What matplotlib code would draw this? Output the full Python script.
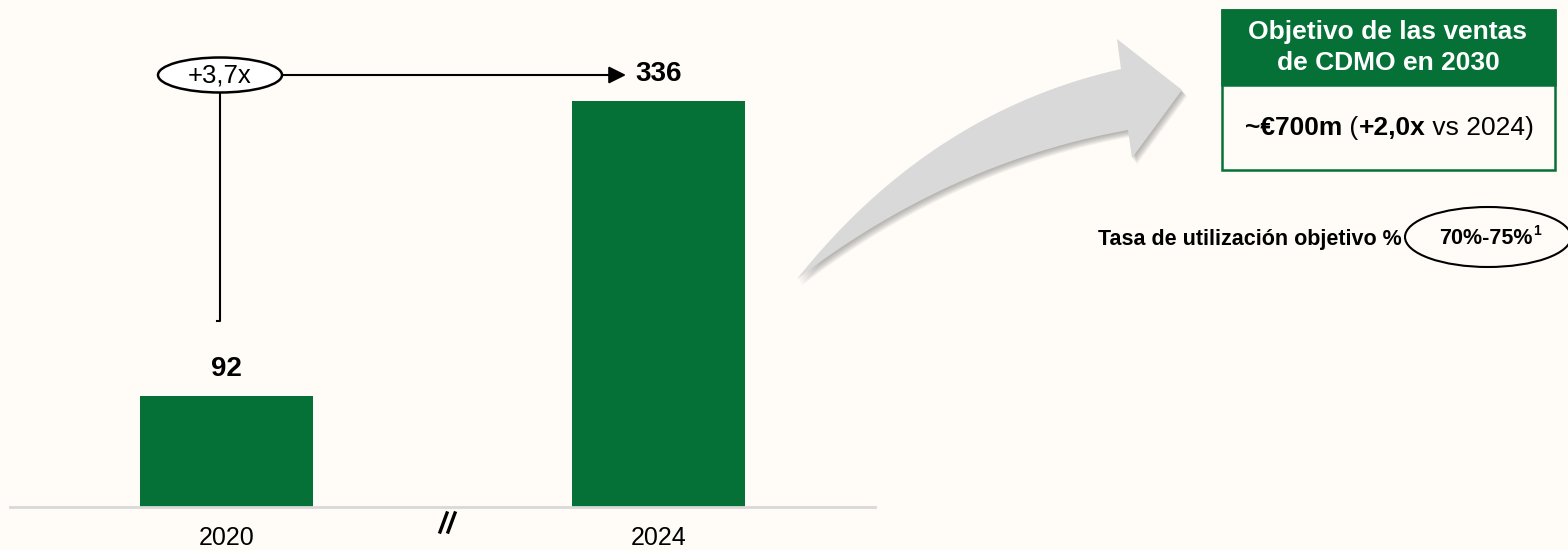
import numpy as np
import matplotlib as mpl
mpl.use('Agg')
from matplotlib import pyplot as plt
from matplotlib.patches import Ellipse, Rectangle, Polygon

# data
years = ['2020', '2024']
sales = [92, 336]
growth_label = '+3,7x'
target_title = ['Objetivo de las ventas', 'de CDMO en 2030']
target_parts = [('~€700m', 'bold'), (' (', 'normal'), ('+2,0x', 'bold'), (' vs 2024)', 'normal')]
util_label = 'Tasa de utilización objetivo %'
util_value = '70%-75%'
util_note = '1'

GREEN = '#067137'
BG = '#FFFCF7'

plt.rcParams['font.family'] = ['Liberation Sans', 'DejaVu Sans']


def qbez(p0, p1, p2, n=60):
    t = np.linspace(0, 1, n)[:, None]
    p0, p1, p2 = np.array(p0), np.array(p1), np.array(p2)
    return (1 - t) ** 2 * p0 + 2 * (1 - t) * t * p1 + t ** 2 * p2


fig = plt.figure(figsize=(15.68, 5.5), dpi=100, facecolor=BG)

# bar chart
ax = fig.add_axes([10 / 1568, 43 / 550, 865 / 1568, 447 / 550])
ax.patch.set_alpha(0)
x = np.arange(len(sales))
ax.bar(x, sales, width=0.4, color=GREEN)
ax.set_xlim(-0.5, 1.5)
ax.set_ylim(0, 370)
for s in ['top', 'left', 'right']:
    ax.spines[s].set_visible(False)
ax.spines['bottom'].set_color('#D9D9D9')
ax.spines['bottom'].set_linewidth(2)
ax.set_yticks([])
ax.set_xticks(x, years, fontsize=18)
ax.tick_params(axis='x', length=0, pad=14)
for i, v in zip(x, sales):
    ax.text(i, v + 22, str(v), ha='center', va='center', fontsize=20, fontweight='bold')

# overlay in pixel coords
ov = fig.add_axes([0, 0, 1, 1])
ov.set_xlim(0, 1568)
ov.set_ylim(550, 0)
ov.axis('off')
ov.patch.set_alpha(0)

# growth bubble
ov.add_patch(Ellipse((220, 75), 124, 35, facecolor='white', edgecolor='black', lw=1.8))
ov.text(220, 75, growth_label, ha='center', va='center', fontsize=18.5)
ov.annotate('', xy=(626, 75), xytext=(282, 75),
            arrowprops=dict(arrowstyle='-|>', color='black', lw=1.5,
                            mutation_scale=26, shrinkA=0, shrinkB=0))
ov.plot([220, 220, 217], [93, 321, 321], color='black', lw=1.5)

# axis break
ov.plot([440, 447], [532, 513], color='black', lw=2.4)
ov.plot([448, 455], [532, 513], color='black', lw=2.4)

# curved arrow
upper = qbez((797, 279), (930, 112), (1121, 69))
lower = qbez((797, 279), (950, 162), (1128, 130))
pts = np.vstack([upper, [(1117, 39), (1182, 90), (1132, 158)], lower[::-1]])
for k in range(1, 8):
    ov.add_patch(Polygon(pts + np.array([k * 0.7, k * 0.9]), closed=True,
                         facecolor='#606060', edgecolor='none', alpha=0.08))
ov.add_patch(Polygon(pts, closed=True, facecolor='#D9D9D9', edgecolor='none'))

# target box
ov.add_patch(Rectangle((1222, 10), 333, 160, facecolor=BG, edgecolor=GREEN, lw=1.8))
ov.add_patch(Rectangle((1222, 10), 333, 75, facecolor=GREEN, edgecolor=GREEN, lw=1.8))
for yy, line in zip([32, 63], target_title):
    ov.text(1388, yy, line, ha='center', va='center', color='white',
            fontsize=19, fontweight='bold')
prev = ov.text(1245, 128, target_parts[0][0], ha='left', va='center',
               fontsize=19, fontweight=target_parts[0][1])
for txt, wt in target_parts[1:]:
    prev = ov.annotate(txt, xy=(1, 0), xycoords=prev, ha='left', va='bottom',
                       fontsize=19, fontweight=wt)

# utilisation
ov.text(1402, 239, util_label, ha='right', va='center', fontsize=15.5, fontweight='bold')
ov.add_patch(Ellipse((1488, 237), 166, 60, facecolor='none', edgecolor='black', lw=1.5))
t = ov.text(1486, 239, util_value, ha='center', va='center', fontsize=15.5, fontweight='bold')
ov.annotate(util_note, xy=(1, 0.55), xycoords=t, ha='left', va='bottom',
            fontsize=10, fontweight='bold')

fig.savefig('out.png', dpi=100, facecolor=BG)
